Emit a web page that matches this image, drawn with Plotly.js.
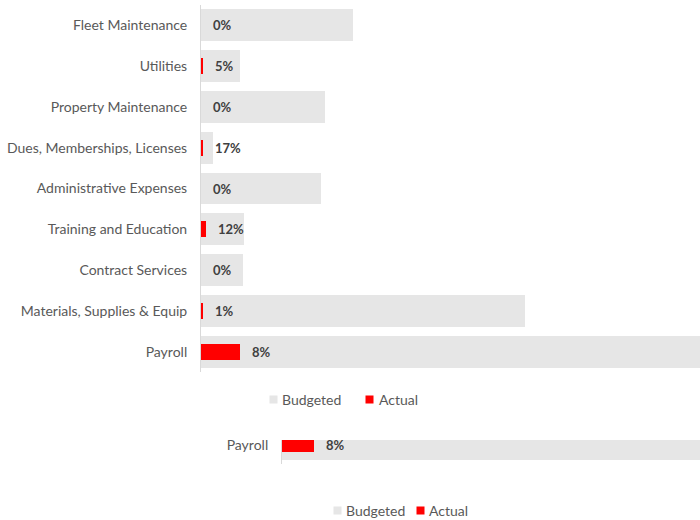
<!DOCTYPE html>
<html><head><meta charset="utf-8">
<script src="https://cdn.plot.ly/plotly-3.0.1.min.js"></script>
<style>
html,body{margin:0;padding:0;overflow:hidden;width:700px;height:520px;background:#fff}
#back{position:absolute;left:0;top:0;width:800px;height:520px}
#chart{position:absolute;left:0;top:0;width:700px;height:440px;background:#fff}
</style></head><body>
<div id="back"></div>
<div id="chart"></div>
<script>
const categories = ["Fleet Maintenance", "Utilities", "Property Maintenance", "Dues, Memberships, Licenses",
  "Administrative Expenses", "Training and Education", "Contract Services", "Materials, Supplies & Equip", "Payroll"];
const budgeted = [152, 39, 124, 12, 120, 43, 42, 324, 505];
const actual = [0, 2, 0, 2, 0.3, 5, 0, 2.3, 38.5];
const seriesNames = ["Budgeted", "Actual"];
const seriesColors = ["#e6e6e6", "#ff0000"];

const FONT = "Lato, 'Noto Sans', sans-serif";
const pctLabels = actual.map((a, i) => Math.round(a / budgeted[i] * 100) + "%");

function traces() {
  return [
    {type: "bar", orientation: "h", name: seriesNames[0], y: categories, x: budgeted, width: 0.78,
     marker: {color: seriesColors[0]}, hoverinfo: "skip"},
    {type: "bar", orientation: "h", name: seriesNames[1], y: categories, x: actual, width: 0.39,
     marker: {color: seriesColors[1]}, hoverinfo: "skip"}
  ];
}
function annots(o) {
  const pw = o.w - o.l - o.r, ph = o.h - o.t - o.b;
  const px = v => (v - o.l) / pw, py = v => (o.h - o.b - v) / ph;
  const out = categories.map((c, i) => ({
    x: actual[i], y: c, xref: "x", yref: "y", text: pctLabels[i], showarrow: false,
    xanchor: "left", yanchor: "middle", xshift: 10,
    font: {family: FONT, size: 13, color: "#404040", weight: "bold"}
  }));
  // legend entries (square swatch + name)
  seriesNames.forEach((n, i) => {
    out.push({xref: "paper", yref: "paper", x: px(o.sq[i]), y: py(o.ly), xanchor: "center", yanchor: "middle",
      text: " ", width: 5, height: 5, borderpad: 1, bgcolor: seriesColors[i], showarrow: false,
      font: {size: 4}});
    out.push({xref: "paper", yref: "paper", x: px(o.tx[i]), y: py(o.ly), xanchor: "left", yanchor: "middle",
      text: n, showarrow: false, font: {family: FONT, size: 14, color: "#595959"}});
  });
  return out;
}
function layout(o) {
  return {
    width: o.w, height: o.h, margin: {l: o.l, r: o.r, t: o.t, b: o.b, pad: 0},
    paper_bgcolor: "#ffffff", plot_bgcolor: "#ffffff",
    barmode: "overlay", bargap: 0,
    font: {family: FONT, size: 13, color: "#595959"},
    xaxis: {range: [0, o.xmax], showgrid: false, zeroline: false, showticklabels: false, ticks: "", showline: false, fixedrange: true},
    yaxis: {type: "category", categoryorder: "array", categoryarray: categories, autorange: "reversed",
      showgrid: false, zeroline: false, showline: true, linecolor: "#d9d9d9", linewidth: 1,
      ticks: "", ticklabelstandoff: 10, tickfont: {family: FONT, size: 14, color: "#595959"}, fixedrange: true},
    showlegend: false,
    annotations: annots(o)
  };
}

// second copy of the chart, mostly hidden, visible at the bottom of the reference
Plotly.newPlot("back", traces(),
  layout({w: 800, h: 520, l: 282, r: 0, t: 122, b: 56, xmax: 614, ly: 510,
          sq: [337.5, 420], tx: [344, 427]}),
  {staticPlot: true, displayModeBar: false});
Plotly.newPlot("chart", traces(),
  layout({w: 700, h: 440, l: 201, r: 0, t: 5, b: 68, xmax: 499, ly: 399,
          sq: [273.5, 369.5], tx: [280, 377]}),
  {staticPlot: true, displayModeBar: false});
</script>
</body></html>
